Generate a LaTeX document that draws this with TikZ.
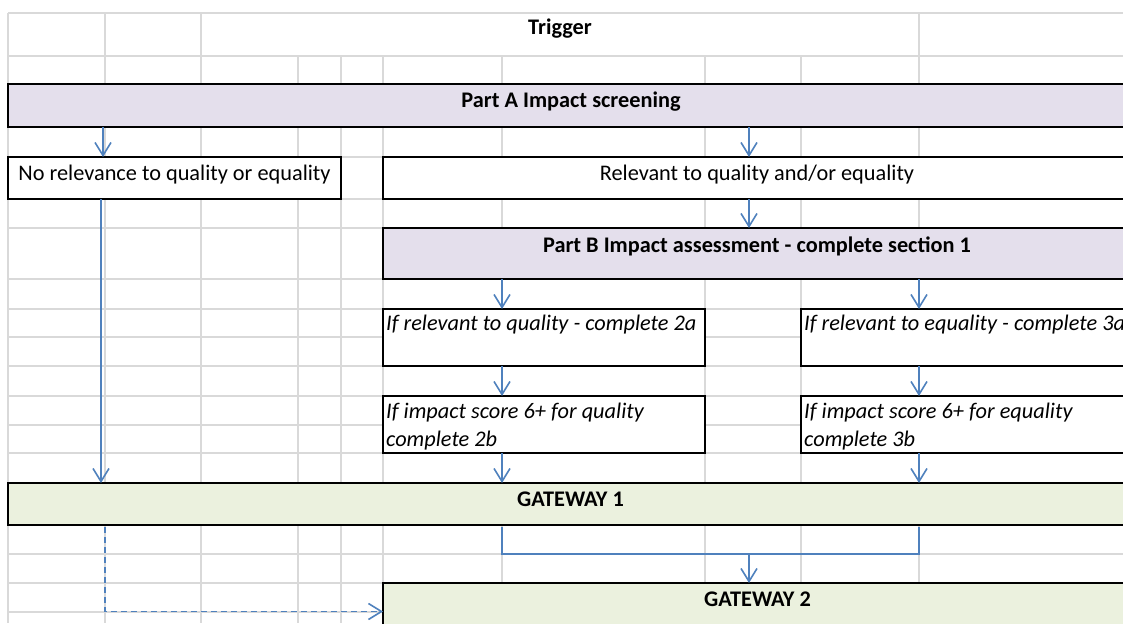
\documentclass[tikz,border=0pt]{standalone}
\usepackage{fontspec}
\setmainfont{Carlito}
\usetikzlibrary{arrows.meta}
\definecolor{gridc}{HTML}{D9D9D9}
\definecolor{lav}{HTML}{E4DFEC}
\definecolor{grn}{HTML}{EBF1DE}
\definecolor{flowc}{HTML}{4F81BD}
\begin{document}
\begin{tikzpicture}[x=1pt,y=-1pt,
  gridline/.style={draw=gridc,line width=1.2pt},
  box/.style={draw=black,line width=2pt,inner sep=0pt,outer sep=0pt,anchor=north west},
  txt/.style={font=\fontsize{22.3}{26}\selectfont,inner sep=0pt,anchor=base},
  ltxt/.style={txt,anchor=base west,font=\fontsize{22.3}{26}\selectfont\itshape},
  btxt/.style={txt,font=\fontsize{22.3}{26}\selectfont\bfseries},
  flow/.style={draw=flowc,line width=1.6pt},
  arr/.style={flow,-{Straight Barb[length=13pt,width=16pt,line width=1.6pt]}}]
\clip (0,0) rectangle (1123,623);
\fill[white] (0,0) rectangle (1123,623);
% spreadsheet grid
\foreach \y in {13,56,84,127,157,199,228,279,309,337,366,396,425,453,483,525,554,583,612}
  \draw[gridline] (8,\y) -- (1123,\y);
\foreach \x in {8,105,201,919}
  \draw[gridline] (\x,13) -- (\x,56);
\foreach \x in {8,105,201,298,341,383,502,705,801,919}
  \draw[gridline] (\x,56) -- (\x,623);
% column coordinates
\coordinate (xa) at (103,0);
\coordinate (xb) at (101,0);
\coordinate (xc) at (105,0);
\coordinate (xq) at (502,0);
\coordinate (xm) at (749,0);
\coordinate (xe) at (919,0);
\coordinate (jl) at (502,554);
\coordinate (jm) at (749,554);
\coordinate (jr) at (919,554);
% boxes
\node[box,fill=lav,minimum width=1127pt,minimum height=43pt] (partA) at (8,84) {};
\node[box,fill=white,minimum width=333pt,minimum height=42pt] (norel) at (8,157) {};
\node[box,fill=white,minimum width=752pt,minimum height=42pt] (rel) at (383,157) {};
\node[box,fill=lav,minimum width=752pt,minimum height=51pt] (partB) at (383,228) {};
\node[box,fill=white,minimum width=322pt,minimum height=57pt] (q2a) at (383,309) {};
\node[box,fill=white,minimum width=334pt,minimum height=57pt] (e3a) at (801,309) {};
\node[box,fill=white,minimum width=322pt,minimum height=57pt] (q2b) at (383,396) {};
\node[box,fill=white,minimum width=334pt,minimum height=57pt] (e3b) at (801,396) {};
\node[box,fill=grn,minimum width=1127pt,minimum height=42pt] (gw1) at (8,483) {};
\node[box,fill=grn,minimum width=752pt,minimum height=57pt] (gw2) at (383,583) {};
% texts
\node[btxt] (trig) at (560,35) {Trigger};
\node[btxt] (partAt) at (571,107.5) {Part A Impact screening};
\node[txt] (norelt) at (174.5,180) {No relevance to quality or equality};
\node[txt] (relt) at (757,180) {Relevant to quality and/or equality};
\node[btxt] (partBt) at (757,252) {Part B Impact assessment - complete section 1};
\node[ltxt] (q2at) at (386,330) {If relevant to quality - complete 2a};
\node[ltxt] (e3at) at (804,330) {If relevant to equality - complete 3a};
\node[ltxt] (q2bt1) at (386,418) {If impact score 6+ for quality};
\node[ltxt] (q2bt2) at (386,446) {complete 2b};
\node[ltxt] (e3bt1) at (804,418) {If impact score 6+ for equality};
\node[ltxt] (e3bt2) at (804,446) {complete 3b};
\node[btxt] (gw1t) at (570.5,506) {GATEWAY 1};
\node[btxt] (gw2t) at (757.5,606) {GATEWAY 2};
% connectors
\draw[arr] (partA.south -| xa) -- (norel.north -| xa);
\draw[arr] (partA.south -| xm) -- (rel.north -| xm);
\draw[arr] (norel.south -| xb) -- (gw1.north -| xb);
\draw[arr] (rel.south -| xm) -- (partB.north -| xm);
\draw[arr] (partB.south -| xq) -- (q2a.north -| xq);
\draw[arr] (partB.south -| xe) -- (e3a.north -| xe);
\draw[arr] (q2a.south -| xq) -- (q2b.north -| xq);
\draw[arr] (e3a.south -| xe) -- (e3b.north -| xe);
\draw[arr] (q2b.south -| xq) -- (gw1.north -| xq);
\draw[arr] (e3b.south -| xe) -- (gw1.north -| xe);
\draw[flow] ([yshift=-2pt]gw1.south -| jl) -- (jl) -- (jr) -- ([yshift=-2pt]gw1.south -| jr);
\draw[arr] (jm) -- (gw2.north -| jm);
\draw[arr,dashed,dash pattern=on 6pt off 4pt] ([yshift=-2pt]gw1.south -| xc) |- (gw2.west);
\end{tikzpicture}
\end{document}
